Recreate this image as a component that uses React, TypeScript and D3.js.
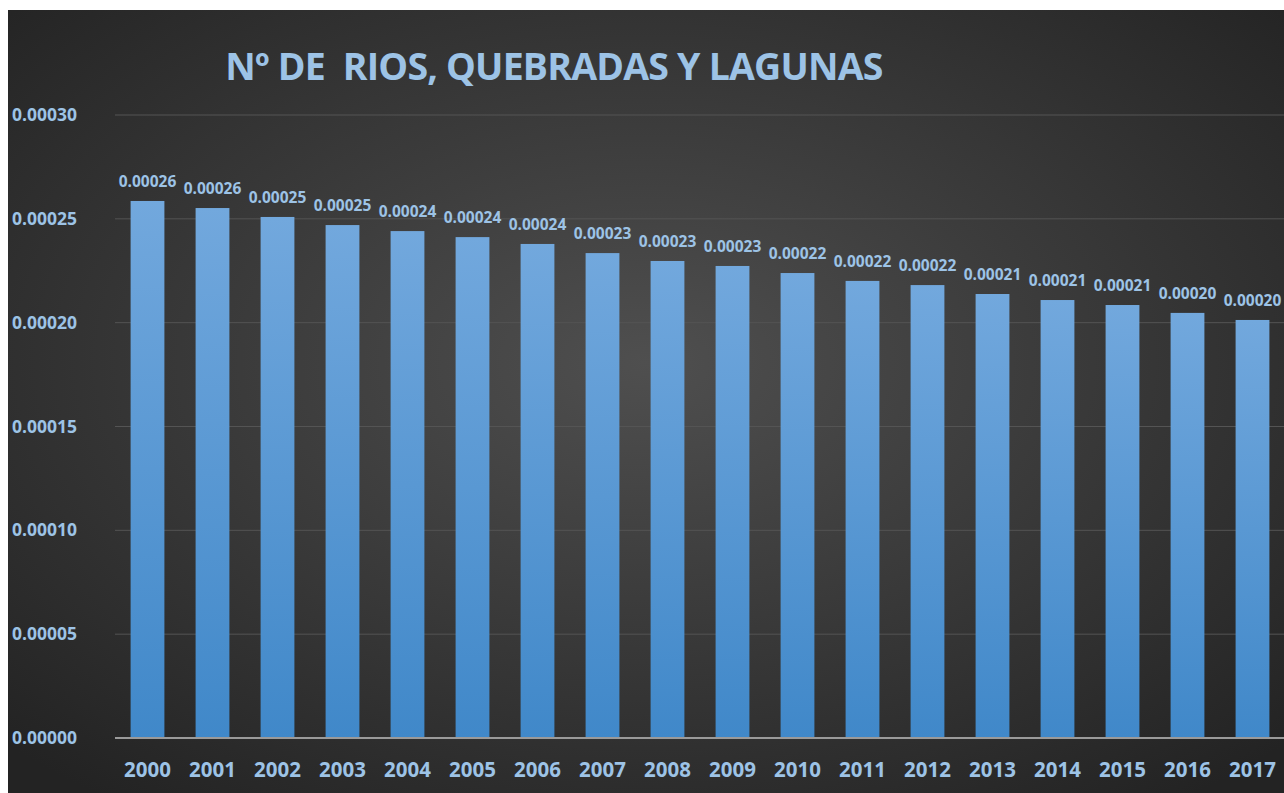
import * as d3 from 'd3'

const years = ['2000', '2001', '2002', '2003', '2004', '2005', '2006', '2007', '2008', '2009', '2010', '2011', '2012', '2013', '2014', '2015', '2016', '2017']
const values = [0.0002586, 0.0002552, 0.0002509, 0.000247, 0.0002441, 0.0002412, 0.0002379, 0.0002335, 0.0002297, 0.0002273, 0.0002239, 0.0002201, 0.0002181, 0.0002138, 0.0002109, 0.0002085, 0.0002047, 0.0002013]
const yTicks = [0, 0.00005, 0.0001, 0.00015, 0.0002, 0.00025, 0.0003]
const title = 'Nº DE  RIOS, QUEBRADAS Y LAGUNAS'

export default function App() {
  const W = 1276
  const H = 783
  const font = '"Open Sans", sans-serif'
  const labelColor = '#9dc3e6'
  // plot area in svg coords (svg sits at page x=8, y=10)
  const left = 107
  const right = 1277
  const top = 105
  const bottom = 728

  const x = d3.scaleBand().domain(years).range([left, right]).paddingInner(0.48).paddingOuter(0.24)
  const y = d3.scaleLinear().domain([0, 0.0003]).range([bottom, top])

  return (
    <svg width={W} height={H} style={{ display: 'block', position: 'absolute', left: 8, top: 10 }}>
      <defs>
        <radialGradient id="bg" cx="50%" cy="45%" r="70%">
          <stop offset="0%" stopColor="#4f4f4f" />
          <stop offset="100%" stopColor="#232323" />
        </radialGradient>
        <linearGradient id="bar" x1="0" y1="0" x2="0" y2="1">
          <stop offset="0%" stopColor="#72a8dd" />
          <stop offset="100%" stopColor="#4088c9" />
        </linearGradient>
      </defs>
      <rect width={W} height={H} fill="url(#bg)" />
      <text x={546} y={70} textAnchor="middle" fill={labelColor} fontFamily={font} fontWeight={700}
        fontSize={37.5} style={{ whiteSpace: 'pre' }} letterSpacing={-0.8}>{title}</text>

      {yTicks.map(t => (
        <g key={t}>
          {t > 0 && <line x1={left} x2={W} y1={y(t)} y2={y(t)} stroke="#545454" strokeWidth={1} />}
          <text x={4} y={y(t)} dy="0.35em" fill={labelColor} fontFamily={font} fontWeight={700} fontSize={17.5}>
            {t.toFixed(5)}
          </text>
        </g>
      ))}

      {values.map((v, i) => (
        <g key={years[i]}>
          <rect x={x(years[i])} y={y(v)} width={x.bandwidth()} height={bottom - y(v)} fill="url(#bar)" />
          <text x={(x(years[i]) as number) + x.bandwidth() / 2} y={y(v) - 14} textAnchor="middle"
            fill={labelColor} fontFamily={font} fontWeight={700} fontSize={15.5}>
            {v.toFixed(5)}
          </text>
          <text x={(x(years[i]) as number) + x.bandwidth() / 2} y={767} textAnchor="middle"
            fill={labelColor} fontFamily={font} fontWeight={700} fontSize={20.5}>
            {years[i]}
          </text>
        </g>
      ))}
      <line x1={left} x2={W} y1={bottom} y2={bottom} stroke="#9a9a9a" strokeWidth={2} />
    </svg>
  )
}
